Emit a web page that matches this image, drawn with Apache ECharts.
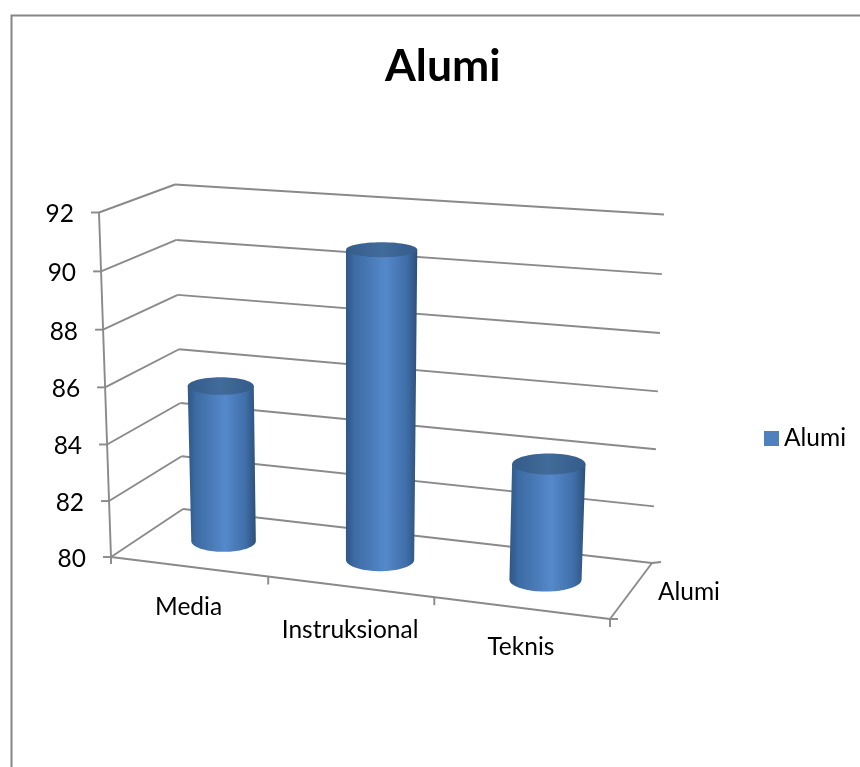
<!DOCTYPE html>
<html>
<head>
<meta charset="utf-8">
<style>html,body{margin:0;padding:0;background:#fff}#chart{width:860px;height:767px}</style>
<script src="https://cdn.jsdelivr.net/npm/echarts@6/dist/echarts.min.js"></script>
</head>
<body>
<div id="chart"></div>
<script>
const categories = ['Media', 'Instruksional', 'Teknis'];
const seriesName = 'Alumi';
const seriesValues = [85.6, 90.8, 84];
const valueTicks = [80, 82, 84, 86, 88, 90, 92];

const FONT = 'Lato';
const LINE = '#8a8a8a';

// Box corners on screen: [left/right][bottom/top][front/back]
const BOX = {
  lbf: [111, 557], ltf: [99, 212.5], lbb: [183, 509], ltb: [175, 184.5],
  rbf: [610, 619], rtf: [627, 251], rbb: [652, 563], rtb: [664, 214.5]
};
// Foreshortening along the category and value axes
const PERSPECTIVE_U = 0.92;
const PERSPECTIVE_V = 0.97;
const foreshorten = (t, a) => a * t / (1 + (a - 1) * t);
const mix = (a, b, t) => [a[0] + (b[0] - a[0]) * t, a[1] + (b[1] - a[1]) * t];

// Maps box coordinates (u across, v up, z into the page; each 0..1) to the screen
function project(u, v, z) {
  const t = foreshorten(u, PERSPECTIVE_U);
  const h = foreshorten(v, PERSPECTIVE_V);
  const left = mix(mix(BOX.lbf, BOX.ltf, h), mix(BOX.lbb, BOX.ltb, h), z);
  const right = mix(mix(BOX.rbf, BOX.rtf, h), mix(BOX.rbb, BOX.rtb, h), z);
  return mix(left, right, t);
}

// Converts a data pair to box coordinates through the grid's own scales
function toBox(api, params, cat, val) {
  const p = api.coord([cat, val]);
  const g = params.coordSys;
  return [(p[0] - g.x) / g.width, (g.y + g.height - p[1]) / g.height];
}

const line = (a, b, w) => ({
  type: 'line',
  shape: { x1: a[0], y1: a[1], x2: b[0], y2: b[1] },
  style: { stroke: LINE, lineWidth: w || 1.9 }
});
const label = (text, x, y, align) => ({
  type: 'text',
  style: { text, x, y, align: align || 'center', verticalAlign: 'middle',
           fontSize: 24.5, fontFamily: FONT, fill: '#000' }
});

// Value gridlines along the side and back walls, with their tick and label
function renderValueTick(params, api) {
  const val = api.value(1);
  const v = toBox(api, params, 0, val)[1];
  const front = project(0, v, 0), back = project(0, v, 1), end = project(1, v, 1);
  const children = [
    line(front, back), line(back, end),
    line(front, [front[0] - 8, front[1]]),
    label(String(val), front[0] - 25, front[1] + 2, 'right')
  ];
  if (params.dataIndex === 0) {
    const tf = project(0, 1, 0);
    const rf = project(1, 0, 0);
    children.push(
      line(tf, front),
      line(front, rf),
      line(rf, end),
      line(rf, [rf[0] + 8, rf[1]]),
      line(end, [end[0] + 9, end[1] - 1]),
      line(front, [front[0], front[1] + 7]),
      line(rf, [rf[0], rf[1] + 8]),
      label(seriesName, (rf[0] + end[0]) / 2 + 58, (rf[1] + end[1]) / 2 + 1)
    );
  }
  return { type: 'group', children };
}

// Category tick marks and labels along the front edge of the floor
const LABEL_DROP = [40, 43.5, 39.5];
function renderCategory(params, api) {
  const i = api.value(0);
  const uc = toBox(api, params, i, valueTicks[0])[0];
  const half = api.size([1, 0])[0] / params.coordSys.width / 2;
  const children = [];
  if (i < categories.length - 1) {
    const tick = project(uc + half, 0, 0);
    children.push(line(tick, [tick[0], tick[1] + 8]));
  }
  const anchor = project(uc, 0, 0);
  children.push(label(categories[i], anchor[0], anchor[1] + LABEL_DROP[i]));
  return { type: 'group', children };
}

// A cylinder standing on the floor just behind mid depth
const BAR_DEPTH = 0.52;
function renderCylinder(params, api) {
  const cat = api.value(0), val = api.value(1);
  const [uc, vTop] = toBox(api, params, cat, val);
  const half = api.size([1, 0])[0] / params.coordSys.width * 0.212;
  const disc = v => {
    const c = project(uc, v, BAR_DEPTH);
    const rx = (project(uc + half, v, BAR_DEPTH)[0] - project(uc - half, v, BAR_DEPTH)[0]) / 2;
    const ry = 0.22 * Math.abs(project(uc, v, 0)[1] - project(uc, v, 1)[1]);
    return { c, rx, ry };
  };
  const top = disc(vTop), bottom = disc(0);
  const pts = [[top.c[0] - top.rx, top.c[1]], [top.c[0] + top.rx, top.c[1]]];
  for (let k = 0; k <= 48; k++) {
    const a = Math.PI * k / 48;
    pts.push([bottom.c[0] + bottom.rx * Math.cos(a), bottom.c[1] + bottom.ry * Math.sin(a)]);
  }
  const bodyFill = new echarts.graphic.LinearGradient(0, 0, 1, 0, [
    { offset: 0, color: '#2f5688' },
    { offset: 0.12, color: '#3d6ba3' },
    { offset: 0.55, color: '#5589cb' },
    { offset: 0.85, color: '#3f6ea8' },
    { offset: 1, color: '#2d5079' }
  ]);
  const capFill = new echarts.graphic.LinearGradient(0, 0, 1, 0, [
    { offset: 0, color: '#355c8a' },
    { offset: 0.5, color: '#416b9a' },
    { offset: 1, color: '#355c8a' }
  ]);
  return {
    type: 'group',
    children: [
      { type: 'polygon', shape: { points: pts }, style: { fill: bodyFill } },
      { type: 'ellipse', shape: { cx: top.c[0], cy: top.c[1], rx: top.rx, ry: top.ry }, style: { fill: capFill } }
    ]
  };
}

const chart = echarts.init(document.getElementById('chart'));
chart.setOption({
  animation: false,
  backgroundColor: '#fff',
  title: {
    text: seriesName, left: 380, top: 39,
    textStyle: { fontFamily: FONT, fontWeight: 'bold', fontSize: 44.5, color: '#000' }
  },
  legend: {
    data: [seriesName], left: 759, top: 421, orient: 'vertical',
    icon: 'rect', itemWidth: 15, itemHeight: 15, itemGap: 6,
    textStyle: { fontFamily: FONT, fontSize: 24.5, color: '#000' }
  },
  grid: { left: 110, top: 212, width: 500, height: 345 },
  xAxis: { type: 'category', data: categories, show: false },
  yAxis: { type: 'value', min: 80, max: 92, interval: 2, show: false },
  graphic: [{
    type: 'rect', left: 9, top: 13, silent: true, z: -1,
    shape: { width: 900, height: 800 },
    style: { fill: 'none', stroke: '#868686', lineWidth: 2 }
  }],
  series: [
    { type: 'custom', name: 'value ticks', renderItem: renderValueTick, z: 1,
      data: valueTicks.map(t => [0, t]), encode: { x: 0, y: 1 }, silent: true },
    { type: 'custom', name: 'category ticks', renderItem: renderCategory, z: 1,
      data: categories.map((c, i) => [i, valueTicks[0]]), encode: { x: 0, y: 1 }, silent: true },
    { type: 'custom', name: seriesName, renderItem: renderCylinder, z: 2,
      itemStyle: { color: '#4f81bd' },
      data: seriesValues.map((v, i) => [i, v]), encode: { x: 0, y: 1 } }
  ]
});
</script>
</body>
</html>
